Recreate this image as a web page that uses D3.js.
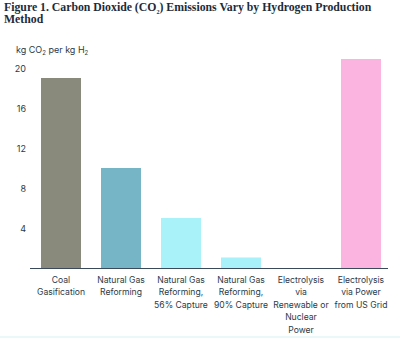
<!DOCTYPE html>
<html><head><meta charset="utf-8">
<script src="https://cdn.jsdelivr.net/npm/d3@7"></script>
<style>body{margin:0;background:#fff;} svg{display:block;}</style>
</head><body>
<script>
const categories = [
  ["Coal","Gasification"],
  ["Natural Gas","Reforming"],
  ["Natural Gas","Reforming,","56% Capture"],
  ["Natural Gas","Reforming,","90% Capture"],
  ["Electrolysis","via","Renewable or","Nuclear","Power"],
  ["Electrolysis","via Power","from US Grid"]
];
const values = [19.1, 10.1, 5.1, 1.15, 0, 21];
const colors = ["#898a7c", "#76b5c5", "#aaf2fa", "#a8f0fa", "#aaf2fa", "#fbb3e0"];
const yTicks = [4, 8, 12, 16, 20];

const W = 400, H = 338;
const svg = d3.select("body").append("svg").attr("width", W).attr("height", H);
const textColor = "#2b3a4a";

// Title (one text element, two lines)
const tg1 = svg.append("g");
const title = tg1.append("text")
  .attr("font-family", "Liberation Serif, serif").attr("font-weight", "bold")
  .attr("font-size", 13.5).attr("fill", "#1d2b3a");
title.append("tspan").attr("x", 0).text("Figure 1. Carbon Dioxide (CO");
title.append("tspan").text("2").attr("font-size", 7).attr("dy", 3);
title.append("tspan").text(") Emissions Vary by Hydrogen Production").attr("dy", -3);
const tw = title.node().getBBox().width;
const sx = 368 / tw;
title.append("tspan").attr("x", 0).attr("dy", 12).text("Method");
tg1.attr("transform", `translate(4,11) scale(${sx},1)`);

// Unit label
const unit = svg.append("text").attr("x", 16).attr("y", 53)
  .attr("font-family", "Inter, sans-serif").attr("font-size", 9).attr("fill", textColor);
unit.append("tspan").text("kg CO");
unit.append("tspan").text("2").attr("font-size", 6).attr("dy", 2);
unit.append("tspan").text(" per kg H").attr("dy", -2);
unit.append("tspan").text("2").attr("font-size", 6).attr("dy", 2);

const x = d3.scaleBand().domain(d3.range(categories.length))
  .range([31, 391]).paddingInner(1/3).paddingOuter(1/6);
const y = d3.scaleLinear().domain([0, 20]).range([269, 69]);

// bars
svg.selectAll("rect.bar").data(values).join("rect")
  .attr("class", "bar")
  .attr("x", (d, i) => x(i))
  .attr("width", x.bandwidth())
  .attr("y", d => y(d))
  .attr("height", d => y(0) - y(d))
  .attr("fill", (d, i) => colors[i]);

// y axis ticks
const yAxis = d3.axisLeft(y).tickValues(yTicks).tickSize(0).tickPadding(0);
const gy = svg.append("g").attr("transform", "translate(26,0)").call(yAxis);
gy.select(".domain").remove();
gy.selectAll("text").attr("font-family", "Inter, sans-serif").attr("font-size", 9).attr("fill", textColor);

// baseline
svg.append("line").attr("x1", 30).attr("x2", 388).attr("y1", 268.5).attr("y2", 268.5)
  .attr("stroke", "#3a4a5a").attr("stroke-width", 1);

// category labels
const gl = svg.append("g");
categories.forEach((lines, i) => {
  const t = gl.append("text").attr("x", x(i) + x.bandwidth() / 2).attr("y", 283)
    .attr("text-anchor", "middle").attr("font-family", "Inter, sans-serif")
    .attr("font-size", 8.6).attr("fill", textColor);
  lines.forEach((l, j) => t.append("tspan").attr("x", x(i) + x.bandwidth() / 2)
    .attr("dy", j === 0 ? 0 : 12.4).text(l));
});

// bottom strip
svg.append("rect").attr("x", 0).attr("y", 336).attr("width", W).attr("height", 2).attr("fill", "#eaf8fa");
</script>
</body></html>
